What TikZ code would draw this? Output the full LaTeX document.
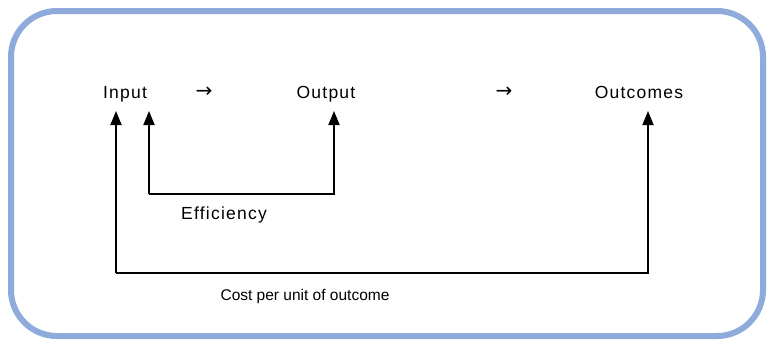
\documentclass[tikz,border=0pt]{standalone}
\usepackage{fontspec}
\setmainfont{Liberation Sans}
\newfontfamily\wordfont[LetterSpace=7]{Liberation Sans}
\newfontfamily\phrasefont{Liberation Sans}
\newfontfamily\symfont{DejaVu Sans}
\usetikzlibrary{arrows.meta}
\definecolor{framecol}{HTML}{8EABDB}
\tikzset{
  frame/.style={draw=framecol, line width=6pt, rounded corners=46pt},
  lbl/.style={inner sep=0pt, anchor=base, font=\wordfont\fontsize{17.5}{20}\selectfont, text=black},
  phrase/.style={inner sep=0pt, anchor=base, font=\phrasefont\fontsize{15.5}{18}\selectfont, text=black},
  sym/.style={inner sep=0pt, font=\symfont\fontsize{20}{22}\selectfont, text=black},
  conn/.style={draw=black, line width=1.8pt},
  tip/.style={-{Triangle[length=14pt,width=11pt]}},
}
\begin{document}
\begin{tikzpicture}[x=1pt,y=-1pt]
  \useasboundingbox[fill=white] (0,0) rectangle (768,340);
  \path[frame] (11,11) rectangle (763,336);

  % chain of results
  \node[lbl] (in)   at (125,98) {Input};
  \node[sym] (ar1)  at (204,92) {→};
  \node[lbl] (out)  at (326,98) {Output};
  \node[sym] (ar2)  at (504,92) {→};
  \node[lbl] (oc)   at (639,98) {Outcomes};

  % ratio labels
  \node[lbl] (eff)  at (224,219) {Efficiency};
  \node[phrase] (cost) at (305,300) {Cost per unit of outcome};

  % arrow end points under the labels
  \coordinate (inA)  at (116,111);
  \coordinate (inB)  at (149,111);
  \coordinate (outA) at (334,111);
  \coordinate (ocA)  at (648,111);

  % bends of the brackets
  \coordinate (e1) at (149,194);
  \coordinate (e2) at (334,194);
  \coordinate (k1) at (116,273);
  \coordinate (k2) at (648,273);

  % efficiency: input to output
  \draw[conn,tip] (e1) -- (inB);
  \draw[conn,tip] (e1) -- (e2) -- (outA);

  % cost per unit of outcome: input to outcomes
  \draw[conn,tip] (k1) -- (inA);
  \draw[conn,tip] (k1) -- (k2) -- (ocA);
\end{tikzpicture}
\end{document}
